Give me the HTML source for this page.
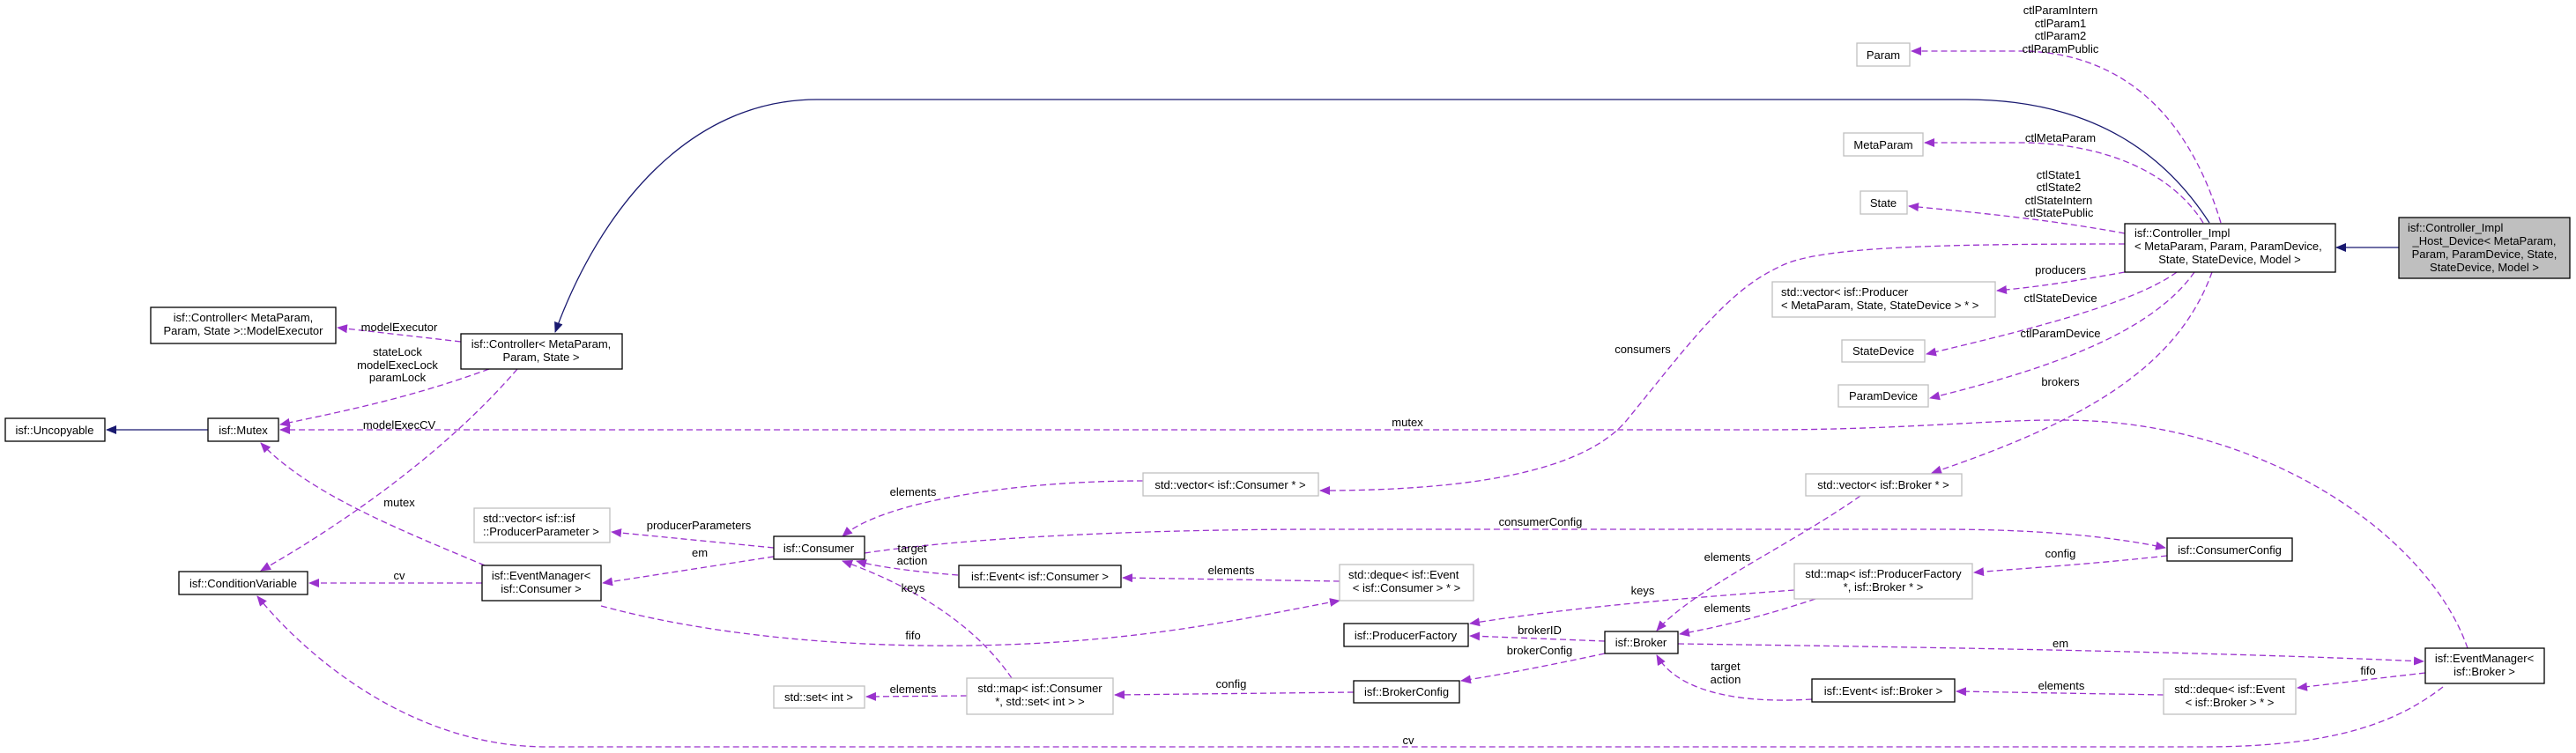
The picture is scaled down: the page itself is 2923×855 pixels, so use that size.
<!DOCTYPE html>
<html><head><meta charset="utf-8"><style>
html,body{margin:0;padding:0;background:#fff;}
svg{display:block;}
text{font-family:"Liberation Sans",Arial,sans-serif;font-size:13px;fill:#000;}
.b{fill:#fff;stroke:#000;stroke-width:1.3;}
.g{fill:#fff;stroke:#bfbfbf;stroke-width:1.3;}
.h{fill:#bfbfbf;stroke:#000;stroke-width:1.3;}
.p{fill:none;stroke:#9a32cd;stroke-width:1.3;stroke-dasharray:7,4;}
.n{fill:none;stroke:#191970;stroke-width:1.3;}
</style></head><body>
<svg width="2923" height="855" viewBox="0 0 2923 855" xmlns="http://www.w3.org/2000/svg">
<defs>
<marker id="ap" markerWidth="12" markerHeight="10" refX="11" refY="5" orient="auto" markerUnits="userSpaceOnUse"><path d="M0,0 L12,5 L0,10 z" fill="#9a32cd"/></marker>
<marker id="an" markerWidth="12" markerHeight="10" refX="11" refY="5" orient="auto" markerUnits="userSpaceOnUse"><path d="M0,0 L12,5 L0,10 z" fill="#191970"/></marker>
</defs>

<!-- navy edges -->
<path class="n" d="M2722,281 L2651,281" marker-end="url(#an)"/>
<path class="n" d="M2507,253 C2460,180 2380,113 2230,113 L927,113 C780,113 680,240 630,377" marker-end="url(#an)"/>
<path class="n" d="M236,488 L121,488" marker-end="url(#an)"/>

<!-- purple edges -->
<path class="p" d="M2520,253 C2480,120 2400,62 2300,58 L2169,58" marker-end="url(#ap)"/>
<path class="p" d="M2500,253 C2460,190 2380,164 2300,162 L2184,162" marker-end="url(#ap)"/>
<path class="p" d="M2411,265 C2330,250 2250,242 2166,234" marker-end="url(#ap)"/>
<path class="p" d="M2411,277 C2200,277 2060,280 2019,303 C1960,330 1917,390 1846,477 C1810,520 1720,557 1498,557" marker-end="url(#ap)"/>
<path class="p" d="M2411,309 C2360,318 2320,325 2266,330" marker-end="url(#ap)"/>
<path class="p" d="M2470,309 C2420,345 2300,375 2186,402" marker-end="url(#ap)"/>
<path class="p" d="M2490,309 C2440,380 2320,420 2190,452" marker-end="url(#ap)"/>
<path class="p" d="M2510,309 C2470,420 2360,480 2192,537" marker-end="url(#ap)"/>
<path class="p" d="M523,388 L383,372" marker-end="url(#ap)"/>
<path class="p" d="M555,419 C470,450 400,465 318,482" marker-end="url(#ap)"/>
<path class="p" d="M587,419 C500,520 380,600 296,648" marker-end="url(#ap)"/>
<path class="p" d="M2800,736 C2760,620 2600,500 2400,480 C2300,470 2200,488 2000,488 L318,488" marker-end="url(#ap)"/>
<path class="p" d="M550,642 C450,600 350,560 296,503" marker-end="url(#ap)"/>
<path class="p" d="M547,662 L351,662" marker-end="url(#ap)"/>
<path class="p" d="M2772,780 C2720,820 2650,848 2500,848 L620,848 C480,848 360,760 292,677" marker-end="url(#ap)"/>
<path class="p" d="M878,622 L694,604" marker-end="url(#ap)"/>
<path class="p" d="M878,632 L684,662" marker-end="url(#ap)"/>
<path class="p" d="M1297,546 C1150,546 1000,570 956,609" marker-end="url(#ap)"/>
<path class="p" d="M981,628 C1100,610 1300,601 1500,601 L2200,601 C2320,601 2400,610 2457,622" marker-end="url(#ap)"/>
<path class="p" d="M1087,653 C1050,650 1000,645 972,637" marker-end="url(#ap)"/>
<path class="p" d="M1520,660 L1274,656" marker-end="url(#ap)"/>
<path class="p" d="M1148,770 C1100,700 1020,660 956,637" marker-end="url(#ap)"/>
<path class="p" d="M682,688 C800,720 950,735 1100,733 C1300,730 1420,700 1520,682" marker-end="url(#ap)"/>
<path class="p" d="M1097,790 L983,791" marker-end="url(#ap)"/>
<path class="p" d="M1536,786 L1265,789" marker-end="url(#ap)"/>
<path class="p" d="M1821,728 L1668,722" marker-end="url(#ap)"/>
<path class="p" d="M1821,742 C1760,755 1710,765 1658,773" marker-end="url(#ap)"/>
<path class="p" d="M2036,670 C1900,680 1780,690 1668,708" marker-end="url(#ap)"/>
<path class="p" d="M2111,563 C2030,620 1920,670 1880,716" marker-end="url(#ap)"/>
<path class="p" d="M2060,680 C2000,700 1950,712 1906,720" marker-end="url(#ap)"/>
<path class="p" d="M1904,731 C2200,735 2500,740 2750,751" marker-end="url(#ap)"/>
<path class="p" d="M2056,794 C1960,800 1900,780 1880,744" marker-end="url(#ap)"/>
<path class="p" d="M2459,631 C2380,640 2300,645 2240,650" marker-end="url(#ap)"/>
<path class="p" d="M2455,789 L2220,785" marker-end="url(#ap)"/>
<path class="p" d="M2752,764 C2700,770 2650,776 2607,781" marker-end="url(#ap)"/>

<!-- boxes -->
<rect class="b" x="6" y="475" width="113" height="26"/><text x="62" y="493" text-anchor="middle">isf::Uncopyable</text>
<rect class="b" x="236" y="475" width="80" height="26"/><text x="276" y="493" text-anchor="middle">isf::Mutex</text>
<rect class="b" x="203" y="649" width="146" height="26"/><text x="276" y="667" text-anchor="middle">isf::ConditionVariable</text>
<rect class="b" x="171" y="349" width="210" height="41"/><text x="276" y="365" text-anchor="middle">isf::Controller&lt; MetaParam,</text><text x="276" y="380" text-anchor="middle">Param, State &gt;::ModelExecutor</text>
<rect class="b" x="523" y="379" width="183" height="40"/><text x="614" y="395" text-anchor="middle">isf::Controller&lt; MetaParam,</text><text x="614" y="410" text-anchor="middle">Param, State &gt;</text>
<rect class="b" x="547" y="642" width="135" height="40"/><text x="614" y="658" text-anchor="middle">isf::EventManager&lt;</text><text x="614" y="673" text-anchor="middle">isf::Consumer &gt;</text>
<rect class="g" x="538" y="577" width="154" height="39"/><text x="548" y="593">std::vector&lt; isf::isf</text><text x="548" y="608">::ProducerParameter &gt;</text>
<rect class="b" x="878" y="609" width="103" height="26"/><text x="929" y="627" text-anchor="middle">isf::Consumer</text>
<rect class="g" x="878" y="779" width="103" height="25"/><text x="929" y="796" text-anchor="middle">std::set&lt; int &gt;</text>
<rect class="g" x="1297" y="537" width="199" height="26"/><text x="1396" y="555" text-anchor="middle">std::vector&lt; isf::Consumer * &gt;</text>
<rect class="b" x="1088" y="642" width="184" height="25"/><text x="1180" y="659" text-anchor="middle">isf::Event&lt; isf::Consumer &gt;</text>
<rect class="g" x="1520" y="641" width="152" height="41"/><text x="1530" y="657">std::deque&lt; isf::Event</text><text x="1596" y="672" text-anchor="middle">&lt; isf::Consumer &gt; * &gt;</text>
<rect class="g" x="1097" y="770" width="166" height="41"/><text x="1180" y="786" text-anchor="middle">std::map&lt; isf::Consumer</text><text x="1180" y="801" text-anchor="middle">*, std::set&lt; int &gt; &gt;</text>
<rect class="b" x="1525" y="708" width="141" height="26"/><text x="1595" y="726" text-anchor="middle">isf::ProducerFactory</text>
<rect class="b" x="1536" y="773" width="120" height="25"/><text x="1596" y="790" text-anchor="middle">isf::BrokerConfig</text>
<rect class="b" x="1821" y="717" width="83" height="25"/><text x="1862" y="734" text-anchor="middle">isf::Broker</text>
<rect class="g" x="2107" y="49" width="60" height="26"/><text x="2137" y="67" text-anchor="middle">Param</text>
<rect class="g" x="2092" y="151" width="90" height="26"/><text x="2137" y="169" text-anchor="middle">MetaParam</text>
<rect class="g" x="2111" y="217" width="53" height="26"/><text x="2137" y="235" text-anchor="middle">State</text>
<rect class="g" x="2011" y="320" width="253" height="40"/><text x="2021" y="336">std::vector&lt; isf::Producer</text><text x="2021" y="351">&lt; MetaParam, State, StateDevice &gt; * &gt;</text>
<rect class="g" x="2090" y="386" width="94" height="25"/><text x="2137" y="403" text-anchor="middle">StateDevice</text>
<rect class="g" x="2086" y="437" width="102" height="25"/><text x="2137" y="454" text-anchor="middle">ParamDevice</text>
<rect class="g" x="2049" y="538" width="177" height="25"/><text x="2137" y="555" text-anchor="middle">std::vector&lt; isf::Broker * &gt;</text>
<rect class="b" x="2459" y="611" width="142" height="26"/><text x="2530" y="629" text-anchor="middle">isf::ConsumerConfig</text>
<rect class="g" x="2036" y="640" width="202" height="40"/><text x="2137" y="656" text-anchor="middle">std::map&lt; isf::ProducerFactory</text><text x="2137" y="671" text-anchor="middle">*, isf::Broker * &gt;</text>
<rect class="b" x="2056" y="771" width="162" height="26"/><text x="2137" y="789" text-anchor="middle">isf::Event&lt; isf::Broker &gt;</text>
<rect class="g" x="2455" y="771" width="150" height="40"/><text x="2530" y="787" text-anchor="middle">std::deque&lt; isf::Event</text><text x="2530" y="802" text-anchor="middle">&lt; isf::Broker &gt; * &gt;</text>
<rect class="b" x="2752" y="736" width="135" height="40"/><text x="2819" y="752" text-anchor="middle">isf::EventManager&lt;</text><text x="2819" y="767" text-anchor="middle">isf::Broker &gt;</text>
<rect class="b" x="2411" y="254" width="239" height="55"/><text x="2422" y="269">isf::Controller_Impl</text><text x="2422" y="284">&lt; MetaParam, Param, ParamDevice,</text><text x="2530" y="299" text-anchor="middle">State, StateDevice, Model &gt;</text>
<rect class="h" x="2722" y="247" width="194" height="69"/><text x="2732" y="263">isf::Controller_Impl</text><text x="2819" y="278" text-anchor="middle">_Host_Device&lt; MetaParam,</text><text x="2819" y="293" text-anchor="middle">Param, ParamDevice, State,</text><text x="2819" y="308" text-anchor="middle">StateDevice, Model &gt;</text>

<!-- labels -->
<g text-anchor="middle">
<text x="2338" y="16">ctlParamIntern</text><text x="2338" y="31">ctlParam1</text><text x="2338" y="45">ctlParam2</text><text x="2338" y="60">ctlParamPublic</text>
<text x="2338" y="161">ctlMetaParam</text>
<text x="2336" y="203">ctlState1</text><text x="2336" y="217">ctlState2</text><text x="2336" y="232">ctlStateIntern</text><text x="2336" y="246">ctlStatePublic</text>
<text x="2338" y="311">producers</text>
<text x="2338" y="343">ctlStateDevice</text>
<text x="2338" y="383">ctlParamDevice</text>
<text x="2338" y="438">brokers</text>
<text x="1864" y="401">consumers</text>
<text x="1597" y="484">mutex</text>
<text x="453" y="376">modelExecutor</text>
<text x="451" y="404">stateLock</text><text x="451" y="419">modelExecLock</text><text x="451" y="433">paramLock</text>
<text x="453" y="487">modelExecCV</text>
<text x="453" y="575">mutex</text>
<text x="453" y="658">cv</text>
<text x="793" y="601">producerParameters</text>
<text x="794" y="632">em</text>
<text x="1036" y="563">elements</text>
<text x="1748" y="597">consumerConfig</text>
<text x="1035" y="627">target</text><text x="1035" y="641">action</text>
<text x="1397" y="652">elements</text>
<text x="1036" y="672">keys</text>
<text x="1036" y="726">fifo</text>
<text x="1036" y="787">elements</text>
<text x="1397" y="781">config</text>
<text x="1864" y="675">keys</text>
<text x="1960" y="637">elements</text>
<text x="1960" y="695">elements</text>
<text x="1747" y="720">brokerID</text>
<text x="1747" y="743">brokerConfig</text>
<text x="1958" y="761">target</text><text x="1958" y="776">action</text>
<text x="2338" y="633">config</text>
<text x="2338" y="735">em</text>
<text x="2339" y="783">elements</text>
<text x="2687" y="766">fifo</text>
<text x="1598" y="845">cv</text>
</g>
</svg>
</body></html>
